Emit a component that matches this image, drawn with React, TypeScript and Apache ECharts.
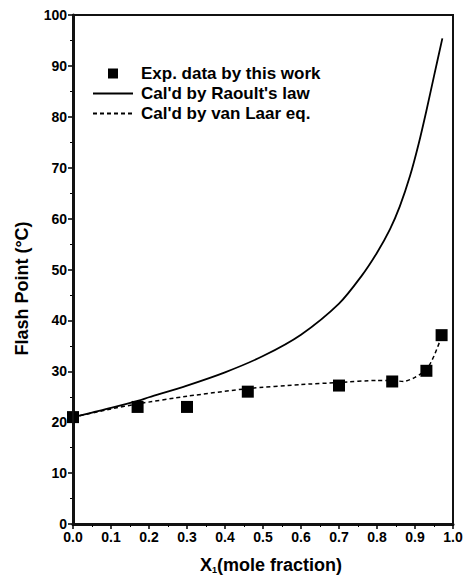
import React, { useEffect, useRef } from "react";
import * as echarts from "echarts";

const xRange = [0, 1];
const yRange = [0, 100];

const expX = [0.0, 0.17, 0.3, 0.46, 0.7, 0.84, 0.93, 0.97];
const expY = [21.0, 23.0, 23.0, 26.0, 27.2, 28.0, 30.1, 37.1];

const raoultX = [0.0, 0.05, 0.1, 0.17, 0.2, 0.3, 0.4, 0.5, 0.6, 0.7, 0.76, 0.8, 0.834, 0.86, 0.887, 0.91, 0.93, 0.95, 0.972];
const raoultY = [21.0, 21.9, 22.8, 24.2, 24.9, 27.2, 29.8, 33.0, 37.2, 43.3, 48.8, 53.3, 57.9, 62.4, 68.4, 74.8, 81.2, 88.0, 95.4];

const vanLaarX = [0.0, 0.1, 0.17, 0.3, 0.46, 0.6, 0.7, 0.8, 0.84, 0.87, 0.9, 0.93, 0.95, 0.972];
const vanLaarY = [21.0, 22.6, 23.6, 25.1, 26.6, 27.4, 27.8, 28.2, 28.2, 28.0, 28.8, 30.3, 33.0, 37.2];

const seriesNames = ["Exp. data by this work", "Cal'd by Raoult's law", "Cal'd by van Laar eq."];

const FONT = "Liberation Sans, Arial, sans-serif";

export default function App() {
  const ref = useRef<HTMLDivElement>(null);
  useEffect(() => {
    document.body.style.margin = "0";
    const chart = echarts.init(ref.current!, null, { renderer: "svg" });
    const frame = [
      [xRange[0], yRange[0]],
      [xRange[1], yRange[0]],
      [xRange[1], yRange[1]],
      [xRange[0], yRange[1]],
      [xRange[0], yRange[0]],
    ];
    chart.setOption({
      animation: false,
      grid: { left: 73, right: 17, top: 15, bottom: 54, show: true, borderColor: "#111", borderWidth: 2 },
      legend: {
        left: 92,
        top: 64,
        padding: 0,
        orient: "vertical",
        itemWidth: 40,
        itemHeight: 10,
        itemGap: 1,
        symbolKeepAspect: true,
        textStyle: { fontSize: 17, fontWeight: "bold", color: "#000", fontFamily: FONT, lineHeight: 19, padding: [0, 0, 0, 3] },
        data: [
          { name: seriesNames[0], icon: "path://M0,0L10,0L10,10L0,10Z" },
          { name: seriesNames[1], itemStyle: { opacity: 0 } },
          { name: seriesNames[2], itemStyle: { opacity: 0 } },
        ],
      },
      xAxis: {
        type: "value",
        min: xRange[0],
        max: xRange[1],
        interval: 0.1,
        axisLine: { show: true, lineStyle: { color: "#111", width: 3 } },
        axisTick: { show: true, length: 5, lineStyle: { color: "#000", width: 1.5 } },
        minorTick: { show: true, splitNumber: 2, length: 3, lineStyle: { color: "#000", width: 1 } },
        splitLine: { show: false },
        axisLabel: {
          color: "#000",
          fontSize: 14,
          fontWeight: "bold",
          fontFamily: FONT,
          margin: 6,
          formatter: (v: number) => v.toFixed(1),
        },
        name: "X{sub|1}(mole fraction)",
        nameLocation: "middle",
        nameGap: 32,
        nameTextStyle: {
          fontSize: 18,
          fontWeight: "bold",
          color: "#000",
          fontFamily: FONT,
          padding: [0, 0, 0, 16],
          rich: {
            sub: { fontSize: 9, fontWeight: "bold", color: "#000", fontFamily: FONT, verticalAlign: "bottom", padding: [8, 0, 0, 0] },
          },
        },
      },
      yAxis: {
        type: "value",
        min: yRange[0],
        max: yRange[1],
        interval: 10,
        axisLine: { show: true, lineStyle: { color: "#111", width: 3 } },
        axisTick: { show: true, length: 5, lineStyle: { color: "#000", width: 1.5 } },
        minorTick: { show: true, splitNumber: 2, length: 3, lineStyle: { color: "#000", width: 1 } },
        splitLine: { show: false },
        axisLabel: { color: "#000", fontSize: 14, fontWeight: "bold", fontFamily: FONT, margin: 6 },
        name: "Flash Point (°C)",
        nameLocation: "middle",
        nameGap: 42,
        nameTextStyle: { fontSize: 18, fontWeight: "bold", color: "#000", fontFamily: FONT, padding: [0, 38, 0, 0] },
      },
      series: [
        {
          name: "frame",
          type: "line",
          symbol: "none",
          silent: true,
          clip: false,
          lineStyle: { color: "#111", width: 2 },
          data: frame,
          z: 10,
        },
        {
          name: seriesNames[0],
          type: "scatter",
          symbol: "rect",
          symbolSize: 12,
          itemStyle: { color: "#000", opacity: 1 },
          data: expX.map((x, i) => [x, expY[i]]),
          clip: false,
          z: 12,
        },
        {
          name: seriesNames[1],
          type: "line",
          symbol: "none",
          smooth: 0.3,
          clip: false,
          lineStyle: { color: "#000", width: 1.8, type: "solid" },
          itemStyle: { color: "#000" },
          data: raoultX.map((x, i) => [x, raoultY[i]]),
        },
        {
          name: seriesNames[2],
          type: "line",
          symbol: "none",
          smooth: 0.2,
          clip: false,
          lineStyle: { color: "#000", width: 1.5, type: [4, 3] },
          itemStyle: { color: "#000" },
          data: vanLaarX.map((x, i) => [x, vanLaarY[i]]),
        },
      ],
    });
    const p0 = chart.convertToPixel({ gridIndex: 0 }, [xRange[0], yRange[1]]) as number[];
    const p1 = chart.convertToPixel({ gridIndex: 0 }, [xRange[1], yRange[0]]) as number[];
    if (p0 && p1) {
      chart.setOption({
        graphic: [
          {
            type: "rect",
            silent: true,
            z: 100,
            shape: { x: p0[0], y: p0[1], width: p1[0] - p0[0], height: p1[1] - p0[1] },
            style: { fill: "none", stroke: "#111", lineWidth: 2 },
          },
        ],
      });
    }
    return () => chart.dispose();
  }, []);
  return <div ref={ref} style={{ width: 470, height: 579 }} />;
}
